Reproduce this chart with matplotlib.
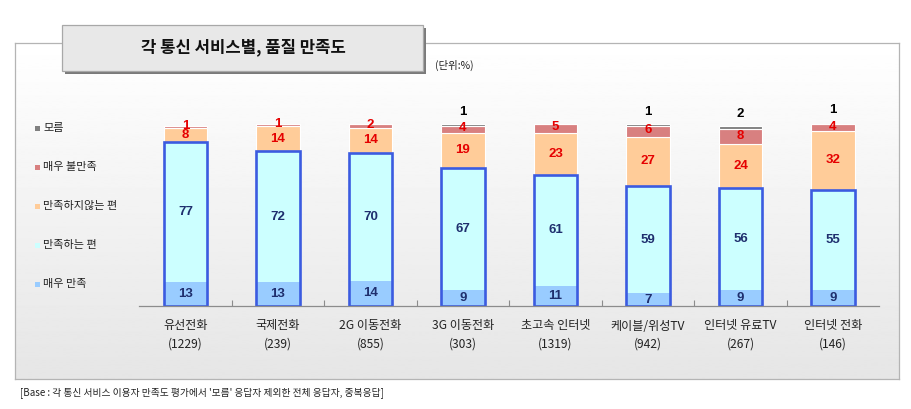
import matplotlib
matplotlib.use("Agg")
import matplotlib.pyplot as plt
import numpy as np
from matplotlib.patches import Rectangle

plt.rcParams['font.family'] = ['Noto Sans CJK KR', 'DejaVu Sans']

categories = ["유선전화", "국제전화", "2G 이동전화", "3G 이동전화", "초고속 인터넷",
              "케이블/위성TV", "인터넷 유료TV", "인터넷 전화"]
counts = ["(1229)", "(239)", "(855)", "(303)", "(1319)", "(942)", "(267)", "(146)"]
very_sat = [13, 13, 14, 9, 11, 7, 9, 9]
sat = [77, 72, 70, 67, 61, 59, 56, 55]
unsat = [8, 14, 14, 19, 23, 27, 24, 32]
very_unsat = [1, 1, 2, 4, 5, 6, 8, 4]
dont_know = [0, 0, 0, 1, 0, 1, 2, 1]

legend_labels = ["모름", "매우 불만족", "만족하지않는 편", "만족하는 편", "매우 만족"]
title = "각 통신 서비스별, 품질 만족도"
unit = "(단위:%)"
footnote = "[Base : 각 통신 서비스 이용자 만족도 평가에서 '모름' 응답자 제외한 전체 응답자, 중복응답]"

c_dk = "#808080"
c_vu = "#D88080"
c_un = "#FFCC99"
c_sa = "#CCFFFF"
c_vs = "#99CCFF"
c_outline = "#3B5BE0"

W, H = 912, 409
fig = plt.figure(figsize=(W / 100, H / 100), dpi=100)


def fx(x):
    return x / W


def fy(y):
    return 1 - y / H


# background frame with gradient
bg = fig.add_axes([fx(15), fy(379), (899 - 15) / W, (379 - 43) / H], zorder=0)
grad = np.linspace(1.0, 0.90, 256).reshape(-1, 1)
bg.imshow(grad, aspect='auto', cmap='gray', vmin=0, vmax=1, extent=[0, 1, 0, 1], origin='upper')
bg.set_xlim(0, 1)
bg.set_ylim(0, 1)
for s in bg.spines.values():
    s.set_color("#B4B4B4")
    s.set_linewidth(0.9)
bg.set_xticks([])
bg.set_yticks([])

# chart axes
ax = fig.add_axes([fx(139.25), fy(306), 740 / W, 182 / H], zorder=2)
ax.patch.set_alpha(0)
x = np.arange(len(categories))
bw = 0.465
vs = np.array(very_sat)
sa = np.array(sat)
un = np.array(unsat)
vu = np.array(very_unsat)
dk = np.array(dont_know)

ax.bar(x, vs, bw, color=c_vs, linewidth=0)
ax.bar(x, sa, bw, bottom=vs, color=c_sa, linewidth=0)
ax.bar(x, un, bw, bottom=vs + sa, color=c_un, edgecolor="white", linewidth=0.8)
ax.bar(x, vu, bw, bottom=vs + sa + un, color=c_vu, edgecolor="white", linewidth=0.8)
ax.bar(x, dk, bw, bottom=vs + sa + un + vu, color=c_dk, edgecolor="white", linewidth=0.8)
ax.bar(x, vs + sa, bw, fill=False, edgecolor=c_outline, linewidth=1.9)

numfont = dict(family=['Liberation Sans', 'DejaVu Sans'], fontweight='bold', fontsize=9.5)
navy = "#1F2F6E"
red = "#E50000"
for i in range(len(x)):
    ax.text(x[i], vs[i] / 2, str(vs[i]), ha='center', va='center', color=navy, **numfont)
    ax.text(x[i], vs[i] + sa[i] / 2, str(sa[i]), ha='center', va='center', color=navy, **numfont)
    ax.text(x[i], vs[i] + sa[i] + un[i] / 2, str(un[i]), ha='center', va='center', color=red, **numfont)
    ax.text(x[i], vs[i] + sa[i] + un[i] + vu[i] / 2 + 0.6, str(vu[i]), ha='center', va='center',
            color=red, **numfont)
    if dk[i] > 0:
        top = vs[i] + sa[i] + un[i] + vu[i] + dk[i]
        ax.text(x[i], top + 6.5, str(dk[i]), ha='center', va='center', color="black", **numfont)

ax.set_xlim(-0.5, len(x) - 0.5)
ax.set_ylim(0, 100)
for s in ["top", "right", "left"]:
    ax.spines[s].set_visible(False)
ax.spines["bottom"].set_color("#8C8C8C")
ax.spines["bottom"].set_linewidth(0.9)
ax.set_yticks([])
ax.set_xticks(np.arange(len(x) - 1) + 0.5)
ax.tick_params(axis='x', direction='in', length=4, color="#8C8C8C", labelbottom=False)

xt = ax.get_xaxis_transform()
for i in range(len(x)):
    ax.text(x[i], (306 - 326) / 182, categories[i], transform=xt, ha='center', va='center',
            fontsize=8.7, color="#222222", clip_on=False)
    ax.text(x[i], (306 - 344) / 182, counts[i], transform=xt, ha='center', va='center',
            fontsize=8.7, color="#222222", clip_on=False)

# legend
leg_y = [128, 167, 206, 245, 284]
leg_c = [c_dk, c_vu, c_un, c_sa, c_vs]
for yy, cc, lab in zip(leg_y, leg_c, legend_labels):
    fig.patches.append(Rectangle((fx(35), fy(yy + 2.5)), 5 / W, 5 / H, transform=fig.transFigure,
                                 facecolor=cc, edgecolor='none', zorder=3))
    fig.text(fx(43), fy(yy), lab, ha='left', va='center', fontsize=8, color="#222222", zorder=3)

# title box with shadow
fig.patches.append(Rectangle((fx(65), fy(74)), (423 - 62) / W, (71 - 25) / H, transform=fig.transFigure,
                             facecolor="#7A7A7A", edgecolor='none', zorder=4))
fig.patches.append(Rectangle((fx(62), fy(71)), (423 - 62) / W, (71 - 25) / H, transform=fig.transFigure,
                             facecolor="#E8E8E8", edgecolor="#A8A8A8", linewidth=0.9, zorder=5))
fig.text(fx(243), fy(47), title, ha='center', va='center', fontsize=12, fontweight='bold',
         color="#111111", zorder=6)

fig.text(fx(435), fy(65), unit, ha='left', va='center', fontsize=7.5, color="#222222", zorder=6)
fig.text(fx(20), fy(393), footnote, ha='left', va='center', fontsize=7, color="#222222")

fig.savefig("out.png", dpi=100)
